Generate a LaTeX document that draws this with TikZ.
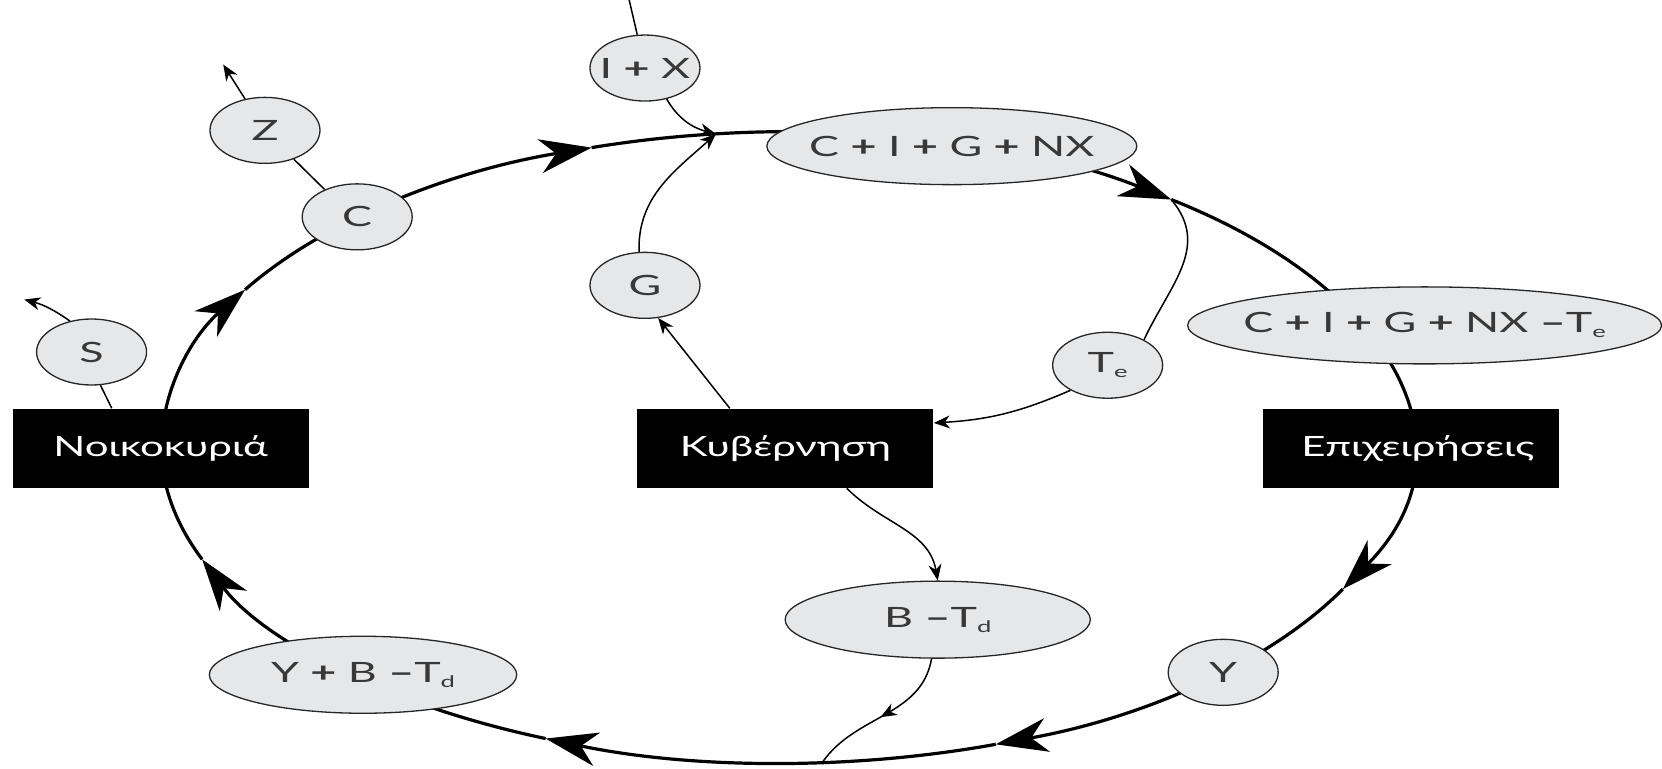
\documentclass[tikz,border=0pt]{standalone}
\usepackage{fontspec}
\setmainfont{Lato}
\newfontfamily\dfont[FakeStretch=1.5]{Lato}
\newfontfamily\efont[FakeStretch=1.6]{Lato}
\usetikzlibrary{arrows.meta,shapes.geometric,decorations.markings}
\definecolor{nodefill}{HTML}{E6E7E8}
\definecolor{inktext}{HTML}{383838}
\pgfdeclarelayer{bg}
\pgfsetlayers{bg,main}
\newcommand{\RX}{312pt}
\newcommand{\RY}{157.7pt}
\newcommand{\plusb}{\textbf{+}}
\newcommand{\minusb}{{\bfseries –}}
\newcommand{\lowsub}[1]{\raisebox{-2.5pt}{\fontsize{8}{8}\selectfont #1}}
\newcommand{\nw}[1]{\makebox[0pt]{#1}}
\begin{document}
\begin{tikzpicture}[x=0.53pt,y=0.53pt,
  every node/.style={font=\dfont\fontsize{14}{17}\selectfont},
  blob/.style={ellipse, draw=black!85, line width=0.65pt, fill=nodefill, text=inktext, inner sep=0pt, minimum width=55pt, minimum height=33pt, font=\efont\fontsize{14}{17}\selectfont},
  longblob/.style={blob, minimum width=#1, minimum height=38.5pt},
  sector/.style={rectangle, fill=black, text=white, inner sep=0pt, minimum width=148pt, minimum height=39.6pt},
  mainline/.style={line width=1.6pt},
  mainflow/.style={mainline, -{Stealth[length=26pt,width=17pt,inset=8pt]}},
  linkline/.style={line width=0.75pt},
  linkarrow/.style={linkline, -{Stealth[length=8pt,width=6.5pt,inset=2.5pt]}},
  midarrow/.style={linkline, postaction={decorate}, decoration={markings, mark=at position 0.52 with {\arrow{Stealth[length=8pt,width=6.5pt,inset=2.5pt]}}}}
]
\useasboundingbox (0,0) rectangle (1568,724.6);

% nodes
\node[blob] (Z) at (250,601.6) {Z};
\node[blob] (C) at (337,520) {C};
\node[blob] (S) at (86.4,392.5) {S};
\node[sector] (Noik) at (151.5,301.6) {Νοικοκυριά};
\node[blob] (IX) at (608.5,660.4) {\nw{I \plusb{} X}};
\node[blob] (G) at (608.5,455.4) {G};
\node[longblob=185pt] (CIGNX) at (898,586.7) {\nw{C \plusb{} I \plusb{} G \plusb{} NX}};
\node[blob] (Te) at (1045,380) {\nw{T\lowsub{e}}};
\node[longblob=237pt] (CIGNXTe) at (1344,417.6) {\nw{C \plusb{} I \plusb{} G \plusb{} NX \minusb T\lowsub{e}}};
\node[sector] (Kyv) at (741,301.6) {Κυβέρνηση};
\node[sector] (Epix) at (1331,301.6) {\hspace*{7pt}Επιχειρήσεις};
\node[blob] (Y) at (1154,90.3) {Y};
\node[longblob=152.6pt] (BTd) at (884.7,140) {\nw{B \minusb T\lowsub{d}}};
\node[longblob=153.7pt] (YBTd) at (342.5,88) {\nw{Y \plusb{} B \minusb T\lowsub{d}}};

% free ends
\coordinate (ztip) at (210.6,663.7);
\coordinate (stip) at (22.9,442);
\coordinate (ixtop) at (593.5,725);

% points on the circular flow
\coordinate (O) at (741,302.5);
\path (O) ++(180:312pt and 157.7pt) coordinate (a180);
\path (O) ++(150:312pt and 157.7pt) coordinate (a150);
\path (O) ++(108.1:312pt and 157.7pt) coordinate (a108);
\path (O) ++(96.4:312pt and 157.7pt) coordinate (jtop);
\path (O) ++(51.8:312pt and 157.7pt) coordinate (a52);
\path (O) ++(-26.7:312pt and 157.7pt) coordinate (am27);
\path (O) ++(-70.3:312pt and 157.7pt) coordinate (am70);
\path (O) ++(-86.6:312pt and 157.7pt) coordinate (jbot);
\path (O) ++(-112.6:312pt and 157.7pt) coordinate (am113);
\path (O) ++(-159.2:312pt and 157.7pt) coordinate (am159);

\begin{pgfonlayer}{bg}
\draw[mainflow] (a180) arc[start angle=180,end angle=150,x radius=\RX,y radius=\RY];
\draw[mainflow] (a150) arc[start angle=150,end angle=108.1,x radius=\RX,y radius=\RY];
\draw[mainflow] (a108) arc[start angle=108.1,end angle=51.8,x radius=\RX,y radius=\RY];
\draw[mainflow] (a52) arc[start angle=51.8,end angle=-26.7,x radius=\RX,y radius=\RY];
\draw[mainflow] (am27) arc[start angle=-26.7,end angle=-70.3,x radius=\RX,y radius=\RY];
\draw[mainflow] (am70) arc[start angle=-70.3,end angle=-112.6,x radius=\RX,y radius=\RY];
\draw[mainflow] (am113) arc[start angle=-112.6,end angle=-159.2,x radius=\RX,y radius=\RY];
\draw[mainline] (am159) arc[start angle=-159.2,end angle=-180,x radius=\RX,y radius=\RY];

\draw[linkline] (C.140) -- (Z.-45);
\draw[linkarrow] (Z) -- (ztip);
\draw[linkarrow] (S.125) to[bend right=10] (stip);
\draw[linkline] (S.-75) -- ([xshift=-24.4pt]Noik.north);
\draw[linkline] (ixtop) -- (IX);
\draw[linkarrow] (IX.-55) to[out=-60,in=165] (jtop);
\draw[linkarrow] (G.100) to[out=92,in=222] (jtop);
\draw[linkarrow] ([xshift=-27.8pt]Kyv.north) -- (G.-68);
\draw[linkline] (a52) to[out=-50,in=65,looseness=1.1] (Te.35);
\draw[linkarrow] (Te.214) to[bend left=10] ([yshift=12.7pt]Kyv.east);
\draw[linkarrow] ([xshift=30.7pt]Kyv.south) to[out=-45,in=100] (BTd.north);
\draw[midarrow] (BTd.-99) to[out=-100,in=55] (jbot);
\end{pgfonlayer}
\end{tikzpicture}
\end{document}
